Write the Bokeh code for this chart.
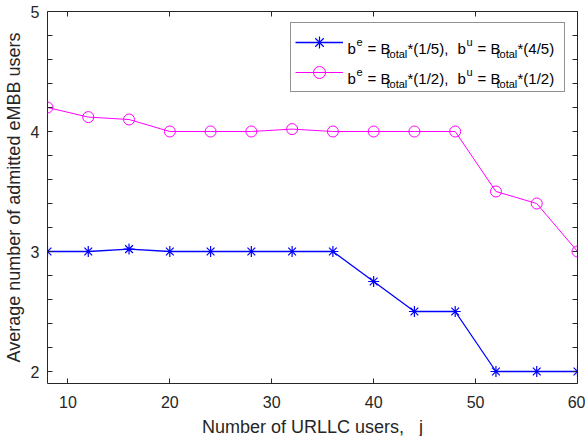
from bokeh.plotting import figure
from bokeh.models import (Range1d, FixedTicker, LinearAxis, Legend,
                          LegendItem, CustomJSTickFormatter)
from bokeh.core.properties import value
from bokeh.embed import file_html
from bokeh.resources import INLINE

# ---------------- data ----------------
urllc_users = [8, 12, 16, 20, 24, 28, 32, 36, 40, 44, 48, 52, 56, 60]
embb_split_1_5 = [3.0, 3.0, 3.02, 3.0, 3.0, 3.0, 3.0, 3.0, 2.75, 2.5, 2.5, 2.0, 2.0, 2.0]
embb_split_1_2 = [4.2, 4.12, 4.1, 4.0, 4.0, 4.0, 4.02, 4.0, 4.0, 4.0, 4.0, 3.5, 3.4, 3.0]
x_ticks = [10, 20, 30, 40, 50, 60]
y_ticks = [2, 3, 4, 5]
y_minor_ticks = [2.2, 2.4, 2.6, 2.8, 3.2, 3.4, 3.6, 3.8, 4.2, 4.4, 4.6, 4.8]
x_label = "Number of URLLC users,\u00a0\u00a0\u00a0j"
y_label = "Average number of admitted eMBB users"
legend_fracs = [("*(1/5),", "*(4/5)"), ("*(1/2),", "*(1/2)")]

# ---------------- layout ----------------
X0, X1 = 8, 60
Y0, Y1 = 1.9, 5
FL, FT, FW, FH = 46, 11, 530, 372   # frame position inside figure (page px)
FONT = "Liberation Sans"
AX = "#262626"

p = figure(frame_width=FW, frame_height=FH,
           min_border_left=FL, min_border_right=586 - FL - FW - 2,
           min_border_top=FT, min_border_bottom=436 - FT - FH - 2,
           x_range=Range1d(X0, X1), y_range=Range1d(Y0, Y1),
           output_backend="svg", toolbar_location=None)
p.xgrid.visible = False
p.ygrid.visible = False
p.outline_line_color = AX
p.outline_line_width = 1
p.background_fill_color = "white"
p.border_fill_color = "white"


def style_axis(ax, ticker, labels=True):
    ax.ticker = ticker
    ax.axis_line_color = None
    ax.major_tick_in = 5
    ax.major_tick_out = 0
    ax.minor_tick_in = 5
    ax.minor_tick_out = 0
    ax.major_tick_line_color = AX
    ax.minor_tick_line_color = AX
    ax.major_label_text_font = FONT
    ax.major_label_text_font_size = "16px"
    ax.major_label_text_color = AX
    ax.axis_label_text_font = FONT
    ax.axis_label_text_font_size = "18px"
    ax.axis_label_text_font_style = "normal"
    ax.axis_label_text_color = AX
    if not labels:
        ax.formatter = CustomJSTickFormatter(code="return ''")
        ax.major_label_standoff = 0
        ax.axis_label_standoff = 0
        ax.major_label_text_font_size = "1px"


style_axis(p.xaxis[0], FixedTicker(ticks=x_ticks, minor_ticks=[]))
style_axis(p.yaxis[0], FixedTicker(ticks=y_ticks, minor_ticks=y_minor_ticks))
p.xaxis[0].major_label_standoff = 12
p.yaxis[0].major_label_standoff = 8
p.xaxis[0].axis_label = x_label
p.xaxis[0].axis_label_standoff = 6
p.yaxis[0].axis_label = y_label
p.yaxis[0].axis_label_standoff = 4

top_ax = LinearAxis()
right_ax = LinearAxis()
style_axis(top_ax, FixedTicker(ticks=x_ticks, minor_ticks=[]), labels=False)
style_axis(right_ax, FixedTicker(ticks=y_ticks, minor_ticks=y_minor_ticks), labels=False)
p.add_layout(top_ax, "above")
p.add_layout(right_ax, "right")

# ---------------- series ----------------
BLUE = "#0000ff"
MAG = "#ff00ff"
l1 = p.line(urllc_users, embb_split_1_5, line_color=BLUE, line_width=1.3)
m1 = p.scatter(urllc_users, embb_split_1_5, marker="asterisk", size=11,
               line_color=BLUE, line_width=1.2)
l2 = p.line(urllc_users, embb_split_1_2, line_color=MAG, line_width=1)
m2 = p.scatter(urllc_users, embb_split_1_2, marker="circle", size=11,
               line_color=MAG, fill_color=None, line_width=1)

# ---------------- legend (native glyphs + rich text) ----------------
legend = Legend(items=[LegendItem(label=" ", renderers=[l1, m1]),
                       LegendItem(label=" ", renderers=[l2, m2])],
                location=(243, 291), padding=4, spacing=0, margin=0,
                glyph_width=48, glyph_height=30, label_width=217, label_height=30,
                label_standoff=0, label_text_font_size="1px",
                border_line_color=AX, border_line_width=1,
                background_fill_alpha=0)
p.add_layout(legend)


# page-pixel -> data converters for legend text placement
def dx(px):
    return X0 + (px - FL) * (X1 - X0) / FW


def dy(py):
    return Y1 - (py - FT) * (Y1 - Y0) / FH


main_x, main_y, main_t = [], [], []
sup_x, sup_y, sup_t = [], [], []
sub_x, sub_y, sub_t = [], [], []
for (frac1, frac2), base in zip(legend_fracs, [48, 78]):
    for px, t in [(346, "b"), (366, "= B"), (406, frac1), (456, "b"), (476, "= B"), (516, frac2)]:
        main_x.append(dx(px)); main_y.append(dy(base)); main_t.append(t)
    for px, t in [(355, "e"), (465, "u")]:
        sup_x.append(dx(px)); sup_y.append(dy(base - 7)); sup_t.append(t)
    for px in (385, 495):
        sub_x.append(dx(px)); sub_y.append(dy(base + 5)); sub_t.append("total")

common = dict(text_font=value(FONT), text_color="#000000",
              text_align="left", text_baseline="alphabetic")
p.text(main_x, main_y, text=main_t, text_font_size="15px", **common)
p.text(sup_x, sup_y, text=sup_t, text_font_size="11px", **common)
p.text(sub_x, sub_y, text=sub_t, text_font_size="11px", **common)

open("out.html", "w").write(file_html(p, INLINE))
